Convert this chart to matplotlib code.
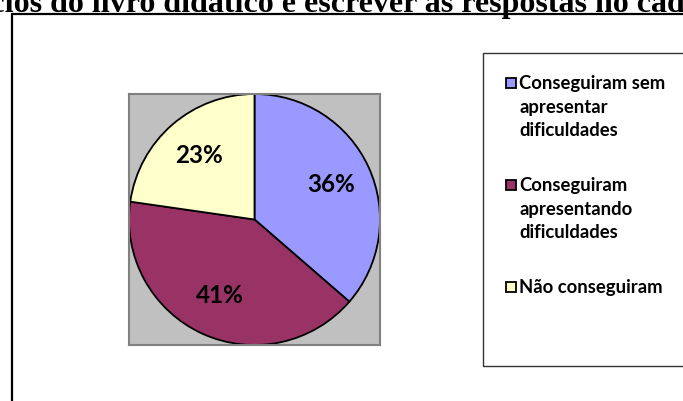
import matplotlib
matplotlib.use("Agg")
import matplotlib.pyplot as plt
from matplotlib.patches import Rectangle

# =========================================================
# DATA
# =========================================================
TITLE = "exercícios do livro didático e escrever as respostas no caderno"
LABELS = [
    "Conseguiram sem\napresentar\ndificuldades",
    "Conseguiram\napresentando\ndificuldades",
    "Não conseguiram",
]
COUNTS = [16, 18, 10]
COLORS = ["#9999FF", "#993366", "#FFFFCC"]

W, H = 683, 401
DPI = 100
LEGEND_FONT = "Lato"


def px(x, y):
    # pixel (top-left origin) -> figure fraction
    return x / W, 1 - y / H


def main():
    fig = plt.figure(figsize=(W / DPI, H / DPI), dpi=DPI)
    fig.patch.set_facecolor("white")

    # title line, cut off at the top of the screenshot
    tx, ty = px(-91, 12)
    fig.text(tx, ty, TITLE, fontsize=23, fontweight="bold",
             family="Liberation Serif", ha="left", va="baseline")

    # chart outer border (continues past the right/bottom edge)
    x0, y0 = px(12, 14)
    fig.add_artist(Rectangle((x0, -0.2), 1.2, y0 + 0.2, transform=fig.transFigure,
                             fill=False, edgecolor="black", linewidth=1.6))

    # pie plot area
    l, b = px(129, 345)
    ax = fig.add_axes([l, b, 251 / W, 251 / H])
    ax.set_facecolor("#C0C0C0")
    for s in ax.spines.values():
        s.set_edgecolor("#808080")
        s.set_linewidth(1.5)

    wedges, texts, autotexts = ax.pie(
        COUNTS,
        colors=COLORS,
        startangle=90,
        counterclock=False,
        radius=1.0,
        autopct="%.0f%%",
        pctdistance=0.67,
        wedgeprops={"edgecolor": "black", "linewidth": 1.3},
        textprops={"fontsize": 17.5, "fontweight": "bold", "family": LEGEND_FONT},
        frame=True,
    )
    ax.set_xlim(-1.0, 1.0)
    ax.set_ylim(-1.0, 1.0)
    ax.set_aspect("equal")
    ax.set_xticks([])
    ax.set_yticks([])

    # legend box (continues past the right edge)
    lx, ly = px(483, 53)
    _, lb = px(0, 366)
    fig.add_artist(Rectangle((lx, lb), 0.5, ly - lb, transform=fig.transFigure,
                             fill=False, edgecolor="#333333", linewidth=1.0))

    line_h = 23.5
    gap = 55
    y = 89
    for label, color in zip(LABELS, COLORS):
        sx, sy = px(506, y - 1)
        fig.add_artist(Rectangle((sx, sy), 10 / W, 10 / H, transform=fig.transFigure,
                                 facecolor=color, edgecolor="black", linewidth=1.3))
        lines = label.split("\n")
        for i, line in enumerate(lines):
            fx, fy = px(519, y + i * line_h)
            fig.text(fx, fy, line, fontsize=13.3, fontweight="bold",
                     family=LEGEND_FONT, ha="left", va="baseline")
        y += (len(lines) - 1) * line_h + gap

    fig.savefig("out.png", dpi=DPI)
    plt.close(fig)


if __name__ == "__main__":
    main()
